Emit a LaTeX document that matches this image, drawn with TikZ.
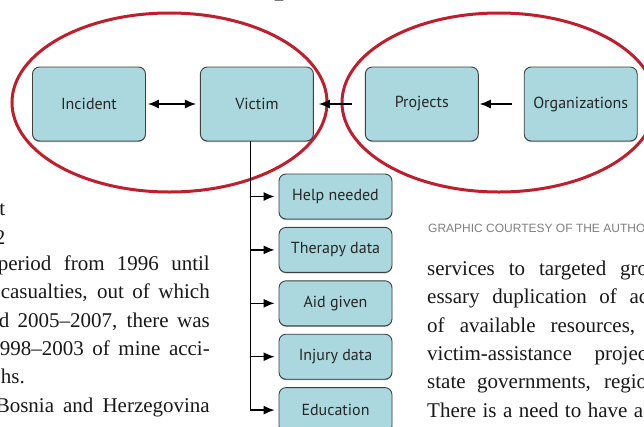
\documentclass[tikz,border=0pt]{standalone}
\usepackage{fontspec}
\setmainfont{Liberation Serif}
\setsansfont{PT Sans}
\newfontfamily\creditfont{Liberation Sans}
\usetikzlibrary{arrows.meta, positioning, shadows, calc}
\definecolor{boxfill}{RGB}{170,216,222}
\definecolor{boxline}{RGB}{64,64,64}
\definecolor{ringred}{RGB}{192,30,45}

\tikzset{
  databox/.style={draw=boxline, fill=boxfill, rounded corners=7pt, line width=0.9pt,
    minimum width=113pt, minimum height=74pt, inner sep=0pt,
    font=\sffamily\fontsize{16}{16}\selectfont, text=black!85,
    drop shadow={shadow xshift=0pt, shadow yshift=-1pt, opacity=0.5, fill=black!70}},
  itembox/.style={databox, minimum height=45pt},
  link/.style={line width=1.3pt, -{Latex[length=11pt,width=9pt]}},
  twoway/.style={line width=1.3pt, {Latex[length=11pt,width=9pt]}-{Latex[length=11pt,width=9pt]}},
  ring/.style={draw=ringred, line width=3pt},
  lefttext/.style={anchor=base east, inner sep=0pt, font=\fontsize{21}{21}\selectfont, text=black!90},
  righttext/.style={lefttext, anchor=base west},
}

\begin{document}
\begin{tikzpicture}[x=1pt, y=-1pt]
    \clip (0,0) rectangle (644,426);
    \fill[white] (0,0) rectangle (644,426);

    % heading letter cut off at the top
    \node[anchor=base, inner sep=0pt, font=\fontsize{40}{40}\selectfont] (head) at (284,-7.5) {p};

    % red groupings
    \draw[ring] (169.5,102.5) ellipse [x radius=157.5, y radius=89.5];
    \draw[ring] (499,102.5) ellipse [x radius=157, y radius=89.5];

    % main row
    \node[databox] (incident) at (89,104) {Incident};
    \node[databox, right=54pt of incident] (victim) {Victim};
    \node[databox, right=51pt of victim] (projects) {Projects};
    \node[databox, right=45pt of projects] (organizations) {Organizations};

    \draw[twoway, shorten <=2pt, shorten >=4pt] (incident) -- (victim);
    \draw[link, shorten <=13pt, shorten >=5pt] (projects) -- (victim);
    \draw[link, shorten <=12pt, shorten >=1pt] (organizations) -- (projects);

    % victim records
    \node[itembox] (help) at (335.5,196.5) {Help needed};
    \node[itembox, below=7.5pt of help] (therapy) {Therapy data};
    \node[itembox, below=7.5pt of therapy] (aid) {Aid given};
    \node[itembox, below=7.5pt of aid] (injury) {Injury data};
    \node[itembox, below=7.5pt of injury] (education) {Education};

    \coordinate (trunk) at ($(victim.south)+(-6.5,0)$);
    \draw[link, shorten >=4pt] (trunk) |- (education.west);
    \foreach \n in {help, therapy, aid, injury}
        \draw[link, shorten >=4pt] (trunk |- \n.west) -- (\n.west);

    % credit line
    \node[anchor=west, inner sep=0pt, font=\creditfont\fontsize{12}{12}\selectfont, text=black!50]
        (credit) at (428,228) {GRAPHIC COURTESY OF THE AUTHOR};

    % body text, left column
    \node[lefttext] (l1) at (5.5,215) {t};
    \node[lefttext] (l2) at (5.5,244) {2};
    \node[lefttext] (l3) at (210,270) {\makebox[212pt][s]{period from 1996 until}};
    \node[lefttext] (l4) at (210,298) {\makebox[209pt][s]{casualties, out of which}};
    \node[lefttext] (l5) at (210,327) {\makebox[211pt][s]{d 2005–2007, there was}};
    \node[lefttext] (l6) at (210,355) {\makebox[210pt][s]{998–2003 of mine acci-}};
    \node[lefttext] (l7) at (25,383) {hs.};
    \node[lefttext] (l8) at (210,412) {\makebox[214pt][s]{Bosnia and Herzegovina}};

    % body text, right column
    \node[righttext] (r1) at (427,275) {\makebox[221pt][s]{services to targeted gro}};
    \node[righttext] (r2) at (427,303) {\makebox[221pt][s]{essary duplication of ac}};
    \node[righttext] (r3) at (427,332) {\makebox[208pt][s]{of available resources,}};
    \node[righttext] (r4) at (427,360) {\makebox[220pt][s]{victim-assistance projec}};
    \node[righttext] (r5) at (427,388) {\makebox[220pt][s]{state governments, regio}};
    \node[righttext] (r6) at (427,417) {\makebox[216pt][s]{There is a need to have a}};
\end{tikzpicture}
\end{document}
